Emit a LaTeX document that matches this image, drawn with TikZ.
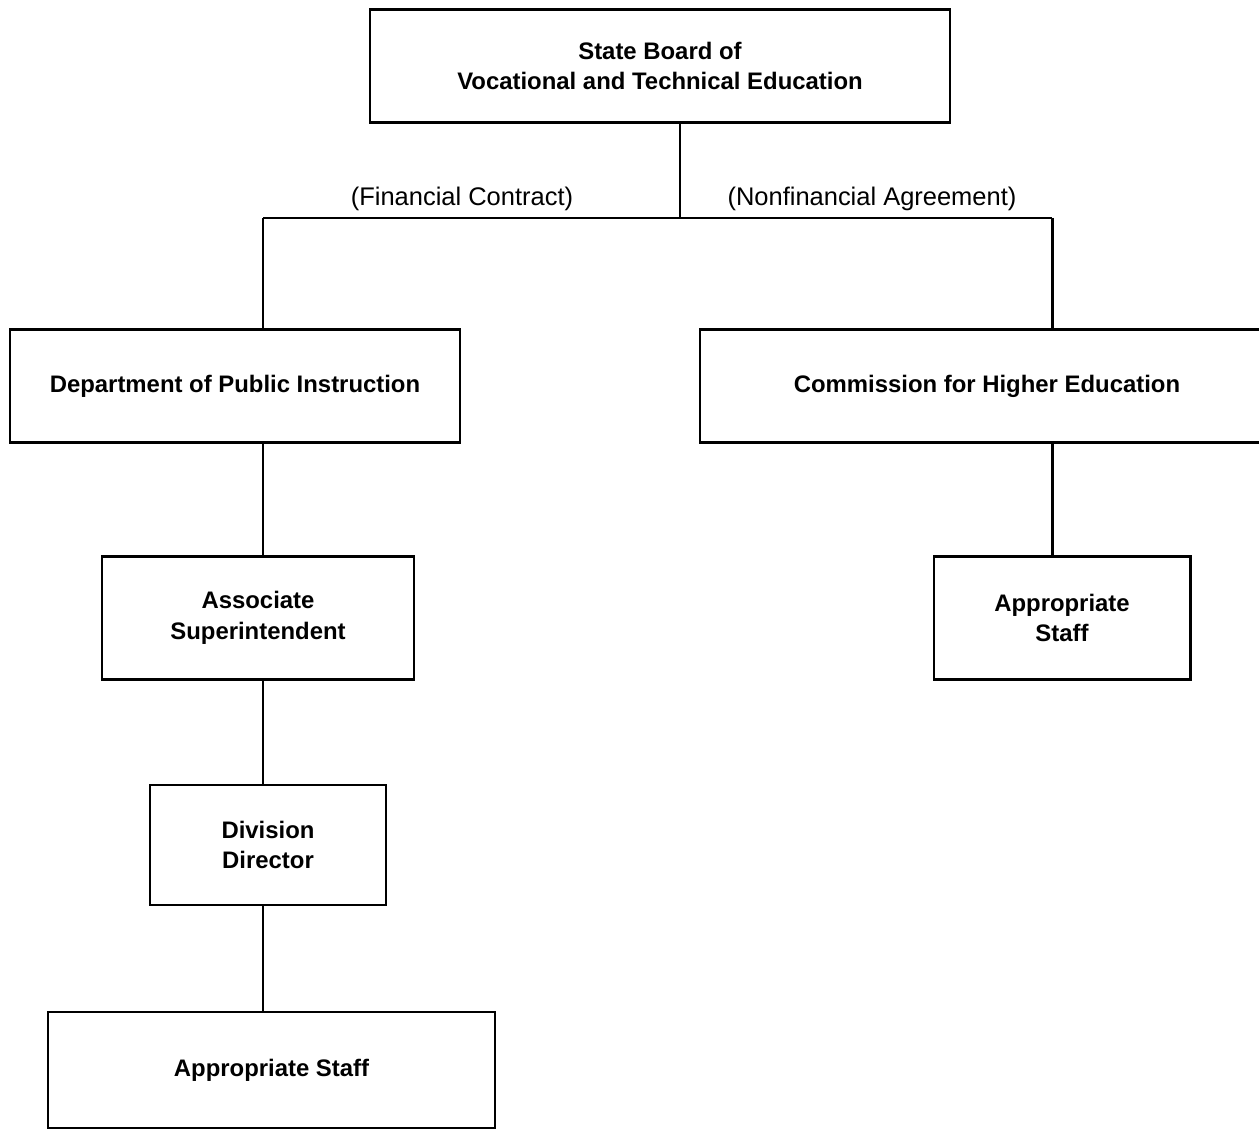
\documentclass[tikz,border=0pt]{standalone}
\usepackage{fontspec}
\setmainfont{Liberation Sans}
\begin{document}
\begin{tikzpicture}[x=0.02cm,y=-0.02cm,
  orgbox/.style={draw,line width=1.7pt,rectangle,inner sep=0pt,align=center,
    font=\fontsize{13.6}{17.5}\selectfont\bfseries},
  link/.style={line width=1.7pt},
  tag/.style={font=\fontsize{14.5}{16}\selectfont,inner sep=0pt}]
\useasboundingbox (0,0) rectangle (1259,1131);
% boxes
\node[orgbox,minimum width=580*0.02cm,minimum height=113*0.02cm] (board) at (660,66)
  {State Board of\\Vocational and Technical Education};
\node[orgbox,minimum width=450*0.02cm,minimum height=113*0.02cm] (dpi) at (235,386)
  {Department of Public Instruction};
\node[orgbox,minimum width=574*0.02cm,minimum height=113*0.02cm] (che) at (987,386)
  {Commission for Higher Education};
\node[orgbox,minimum width=312*0.02cm,minimum height=123*0.02cm] (assoc) at (258,618)
  {Associate\\Superintendent};
\node[orgbox,minimum width=256*0.02cm,minimum height=123*0.02cm] (staffR) at (1062,618)
  {Appropriate\\Staff};
\node[orgbox,minimum width=236*0.02cm,minimum height=120*0.02cm] (div) at (268,845)
  {Division\\Director};
\node[orgbox,minimum width=447*0.02cm,minimum height=116*0.02cm] (staffL) at (271.5,1070)
  {Appropriate Staff};
% branch points
\coordinate (mid) at (680,218);
\coordinate (lx) at (263,218);
\coordinate (rx) at (1052,218);
% connectors
\draw[link] (board.south -| mid) -- (mid);
\draw[link] (lx) -- (rx);
\draw[link] (lx) -- (dpi.north -| lx);
\draw[link] (rx) -- (che.north -| rx);
\draw[link] (dpi.south -| lx) -- (assoc.north -| lx);
\draw[link] (assoc.south -| lx) -- (div.north -| lx);
\draw[link] (div.south -| lx) -- (staffL.north -| lx);
\draw[link] (che.south -| rx) -- (staffR.north -| rx);
% labels on the branch
\node[tag] (fin) at (462,199) {(Financial Contract)};
\node[tag] (nonfin) at (872,199) {(Nonfinancial Agreement)};
\end{tikzpicture}
\end{document}
